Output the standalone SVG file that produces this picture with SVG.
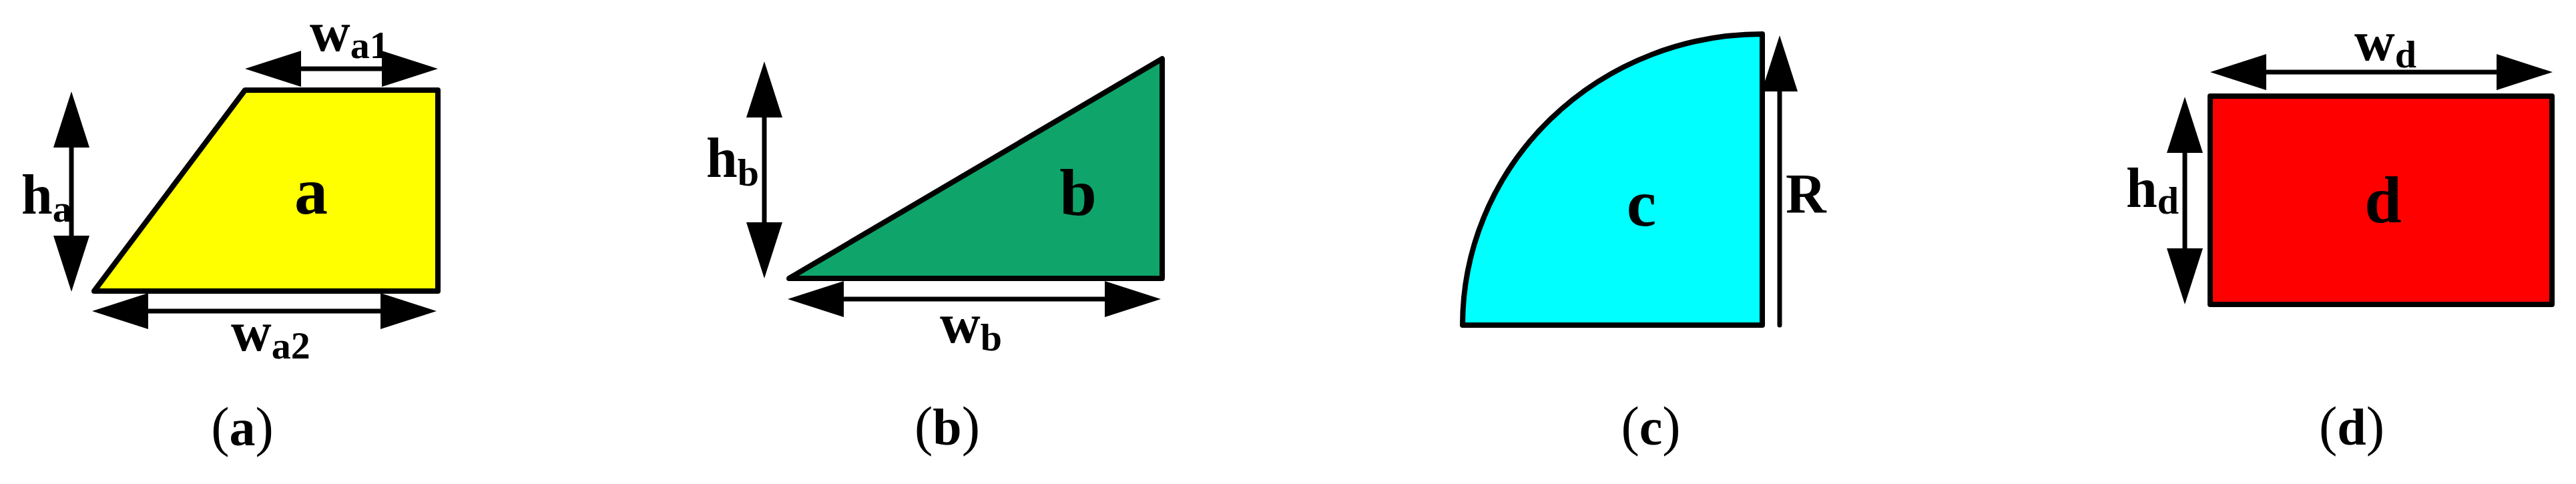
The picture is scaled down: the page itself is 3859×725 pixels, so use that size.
<svg xmlns="http://www.w3.org/2000/svg" xmlns:xlink="http://www.w3.org/1999/xlink" width="3859" height="725" viewBox="0 0 3859 725">
<style>
.shape{stroke:#000;stroke-width:8;stroke-linejoin:round}
.dim{stroke:#000;stroke-width:7;fill:none}
.lbl{font-family:"Liberation Serif","Times New Roman",serif;font-weight:bold;fill:#000}
.big{font-size:100px;text-anchor:middle}
.mid{font-size:84px}
.sub{font-size:58px}
.cap{font-family:"Liberation Serif","Times New Roman",serif;font-size:82px;fill:#000;text-anchor:middle}
.capl{font-weight:bold;font-size:78px}
</style>
<defs>
<path id="ah" d="M0,0 L-27,84 L27,84 Z" fill="#000"/>
</defs>
<rect width="3859" height="725" fill="#fff"/>
<g id="node-a">
<polygon class="shape" fill="#FFFF00" points="367,135 656,135 656,436 141,436"/>
<text class="lbl big" x="466" y="320">a</text>
</g>
<g id="node-b">
<polygon class="shape" fill="#0FA56A" points="1182,417 1741,88 1741,417"/>
<text class="lbl big" x="1615" y="322">b</text>
</g>
<g id="node-c">
<path class="shape" fill="#00FFFF" d="M2191,487 A449,436 0 0 1 2640,51 L2640,487 Z"/>
<text class="lbl big" x="2459" y="338">c</text>
</g>
<g id="node-d">
<rect class="shape" fill="#FF0000" x="3311" y="144" width="512" height="312"/>
<text class="lbl big" x="3570" y="333">d</text>
</g>
<g id="connectors">
<line class="dim" x1="107" y1="210" x2="107" y2="364"/>
<use xlink:href="#ah" transform="translate(107,137)"/>
<use xlink:href="#ah" transform="translate(107,437) rotate(180)"/>
<line class="dim" x1="440" y1="103" x2="584" y2="103"/>
<use xlink:href="#ah" transform="translate(367,103) rotate(-90)"/>
<use xlink:href="#ah" transform="translate(656,103) rotate(90)"/>
<line class="dim" x1="210" y1="466" x2="582" y2="466"/>
<use xlink:href="#ah" transform="translate(138,466) rotate(-90)"/>
<use xlink:href="#ah" transform="translate(654,466) rotate(90)"/>
<line class="dim" x1="1145" y1="170" x2="1145" y2="338"/>
<use xlink:href="#ah" transform="translate(1145,92)"/>
<use xlink:href="#ah" transform="translate(1145,417) rotate(180)"/>
<line class="dim" x1="1258" y1="448" x2="1661" y2="448"/>
<use xlink:href="#ah" transform="translate(1180,448) rotate(-90)"/>
<use xlink:href="#ah" transform="translate(1739,448) rotate(90)"/>
<line class="dim" x1="2666" y1="130" x2="2666" y2="487" stroke-linecap="round"/>
<use xlink:href="#ah" transform="translate(2666,53)"/>
<line class="dim" x1="3273" y1="220" x2="3273" y2="381"/>
<use xlink:href="#ah" transform="translate(3273,145)"/>
<use xlink:href="#ah" transform="translate(3273,456) rotate(180)"/>
<line class="dim" x1="3385" y1="108" x2="3750" y2="108"/>
<use xlink:href="#ah" transform="translate(3311,108) rotate(-90)"/>
<use xlink:href="#ah" transform="translate(3824,108) rotate(90)"/>
</g>
<g id="labels">
<text class="lbl mid" x="32" y="320">h<tspan class="sub" dy="12">a</tspan></text>
<text class="lbl mid" x="464" y="76">w<tspan class="sub" dy="11">a1</tspan></text>
<text class="lbl mid" x="346" y="525">w<tspan class="sub" dy="12">a2</tspan></text>
<text class="lbl mid" x="1058" y="265">h<tspan class="sub" dy="13">b</tspan></text>
<text class="lbl mid" x="1408" y="513">w<tspan class="sub" dy="12">b</tspan></text>
<text class="lbl mid" x="2675" y="319">R</text>
<text class="lbl mid" x="3185" y="310">h<tspan class="sub" dy="10">d</tspan></text>
<text class="lbl mid" x="3527" y="90">w<tspan class="sub" dy="11">d</tspan></text>
</g>
<g id="captions">
<text class="cap" x="363" y="667">(<tspan class="capl">a</tspan>)</text>
<text class="cap" x="1419" y="666">(<tspan class="capl">b</tspan>)</text>
<text class="cap" x="2473" y="666">(<tspan class="capl">c</tspan>)</text>
<text class="cap" x="3523" y="666">(<tspan class="capl">d</tspan>)</text>
</g>
</svg>
